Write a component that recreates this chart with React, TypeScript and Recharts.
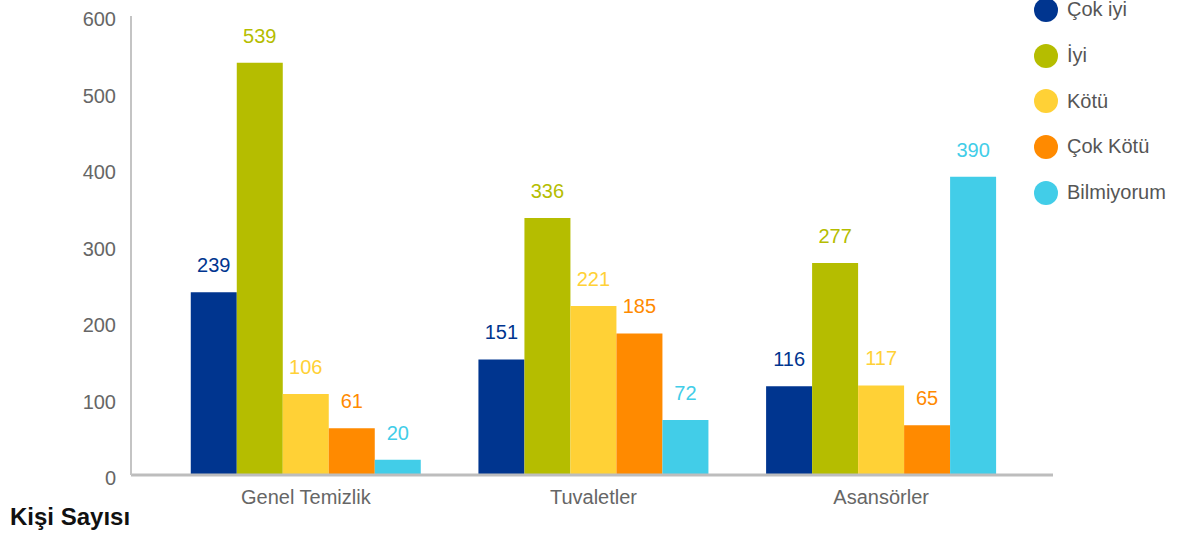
import { Bar, BarChart, LabelList, XAxis, YAxis } from 'recharts';

const categories = ['Genel Temizlik', 'Tuvaletler', 'Asansörler'];
const cokIyi = [239, 151, 116];
const iyi = [539, 336, 277];
const kotu = [106, 221, 117];
const cokKotu = [61, 185, 65];
const bilmiyorum = [20, 72, 390];
const yTicks = [0, 100, 200, 300, 400, 500, 600];

const series = [
  { key: 'cokIyi', name: 'Çok iyi', color: '#00358F', values: cokIyi },
  { key: 'iyi', name: 'İyi', color: '#B5BD00', values: iyi },
  { key: 'kotu', name: 'Kötü', color: '#FFD136', values: kotu },
  { key: 'cokKotu', name: 'Çok Kötü', color: '#FF8A00', values: cokKotu },
  { key: 'bilmiyorum', name: 'Bilmiyorum', color: '#42CDE8', values: bilmiyorum },
];

const data = categories.map((name, i) => {
  const row: Record<string, string | number> = { name };
  series.forEach((s) => (row[s.key] = s.values[i]));
  return row;
});

const font = '"Liberation Sans", Arial, sans-serif';

function LegendBox() {
  return (
    <div style={{ position: 'absolute', left: 1034, top: -13, fontFamily: font }}>
      {series.map((s) => (
        <div key={s.key} style={{ display: 'flex', alignItems: 'center', height: 45.7 }}>
          <span
            style={{
              width: 24,
              height: 24,
              borderRadius: 12,
              background: s.color,
              display: 'inline-block',
              marginRight: 9,
            }}
          />
          <span style={{ fontSize: 20, color: '#555' }}>{s.name}</span>
        </div>
      ))}
    </div>
  );
}

export default function App() {
  return (
    <div style={{ position: 'absolute', left: 0, top: 0, width: 1200, height: 542, background: '#fff' }}>
      <BarChart
        width={1200}
        height={542}
        data={data}
        margin={{ top: 16, right: 147, bottom: 37, left: 0 }}
        barCategoryGap="10%"
        barGap={0}
      >
        <XAxis
          dataKey="name"
          height={30}
          padding={{ left: 31, right: 28 }}
          axisLine={{ stroke: '#BDBDBD', strokeWidth: 3 }}
          tickLine={false}
          tickSize={0}
          tickMargin={15}
          tick={{ fill: '#666', fontSize: 20, fontFamily: font }}
        />
        <YAxis
          width={131}
          domain={[0, 600]}
          ticks={yTicks}
          axisLine={{ stroke: '#C4C4C4', strokeWidth: 2 }}
          tickLine={false}
          tickSize={0}
          tickMargin={15}
          tick={{ fill: '#666', fontSize: 20, fontFamily: font, dy: 3 }}
        />
        {series.map((s) => (
          <Bar key={s.key} dataKey={s.key} name={s.name} fill={s.color} isAnimationActive={false}>
            <LabelList
              dataKey={s.key}
              position="top"
              offset={20}
              fill={s.color}
              fontSize={20}
              fontFamily={font}
            />
          </Bar>
        ))}
      </BarChart>
      <LegendBox />
      <div
        style={{
          position: 'absolute',
          left: 10,
          top: 503,
          fontFamily: font,
          fontSize: 24,
          fontWeight: 'bold',
          color: '#111',
        }}
      >
        Kişi Sayısı
      </div>
    </div>
  );
}
